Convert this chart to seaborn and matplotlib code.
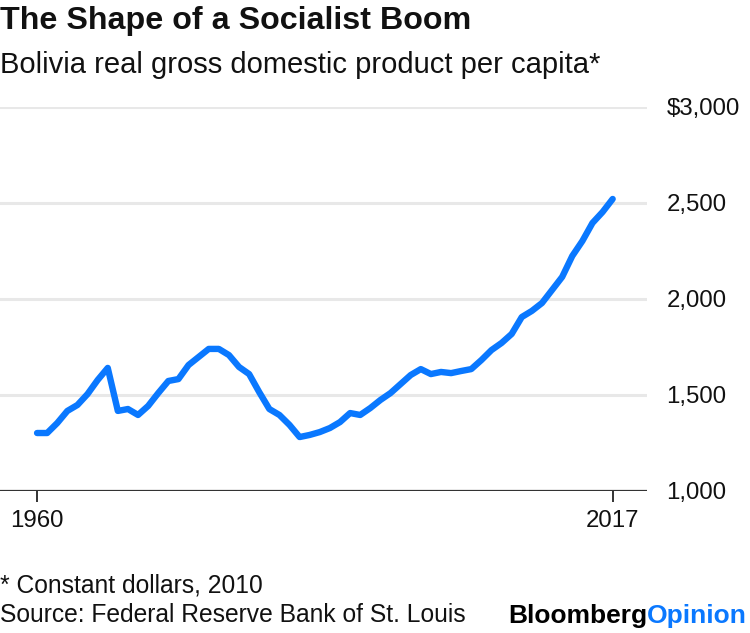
import pandas as pd
import matplotlib.pyplot as plt
import seaborn as sns

# Bolivia real GDP per capita (constant 2010 dollars)
years = list(range(1960, 2018))
gdp = [1302, 1302, 1354, 1417, 1448, 1505, 1578, 1641, 1417, 1427,
       1396, 1443, 1510, 1573, 1583, 1656, 1698, 1740, 1740, 1708,
       1646, 1609, 1515, 1427, 1396, 1344, 1281, 1292, 1307, 1328,
       1359, 1406, 1396, 1432, 1474, 1510, 1557, 1604, 1635, 1609,
       1620, 1614, 1625, 1635, 1682, 1734, 1771, 1818, 1906, 1938,
       1979, 2047, 2115, 2224, 2302, 2396, 2453, 2521]
y_ticks = [1000, 1500, 2000, 2500, 3000]
y_labels = ['1,000', '1,500', '2,000', '2,500', '$3,000']
x_ticks = [1960, 2017]

df = pd.DataFrame({'Year': years, 'GDP': gdp})

sns.set_style('white')
plt.rcParams['font.family'] = ['Liberation Sans', 'DejaVu Sans']

blue = '#0a78ff'
ink = '#111111'

fig = plt.figure(figsize=(7.5, 6.33), dpi=100)
ax = fig.add_axes([0.0, 1 - 491 / 633, 647 / 750, 384 / 633])

# light gridlines, dark baseline
for v in y_ticks[1:]:
    ax.axhline(v, color='#e8e8e8', lw=2.2, zorder=1)
ax.axhline(1000, color='#333333', lw=1.6, zorder=2)

sns.lineplot(data=df, x='Year', y='GDP', color=blue, lw=4.6, ax=ax, zorder=3)

ax.set_xlim(1956.33, 2020.4)
ax.set_ylim(1000, 3000)
ax.set_xlabel('')
ax.set_ylabel('')
ax.set_xticks(x_ticks)
ax.set_xticklabels([str(x) for x in x_ticks])
ax.set_yticks(y_ticks)
ax.set_yticklabels(y_labels)
ax.yaxis.tick_right()
for lab in ax.get_yticklabels():
    lab.set_horizontalalignment('left')
ax.tick_params(axis='y', left=False, right=False, length=0, pad=14,
               labelsize=17.3, labelcolor=ink)
ax.tick_params(axis='x', bottom=True, direction='out', length=8, width=1.4,
               color='#333333', pad=6, labelsize=17.3, labelcolor=ink)
for s in ax.spines.values():
    s.set_visible(False)

fig.text(0.0, 1 - 29 / 633, 'The Shape of a Socialist Boom', fontsize=23.2,
         fontweight='bold', va='baseline', ha='left', color=ink)
fig.text(0.0, 1 - 73 / 633, 'Bolivia real gross domestic product per capita*',
         fontsize=21, va='baseline', ha='left', color=ink)
fig.text(0.0, 1 - 592 / 633, '* Constant dollars, 2010', fontsize=17.7,
         va='baseline', ha='left', color=ink)
fig.text(0.0, 1 - 622 / 633, 'Source: Federal Reserve Bank of St. Louis',
         fontsize=17.7, va='baseline', ha='left', color=ink)
t = fig.text(508 / 750, 1 - 623 / 633, 'Bloomberg', fontsize=19,
             fontweight='bold', va='baseline', ha='left', color='#000000')
fig.canvas.draw()
bb = t.get_window_extent()
fig.text(bb.x1 / fig.bbox.width, 1 - 623 / 633, 'Opinion', fontsize=19,
         fontweight='bold', va='baseline', ha='left', color=blue)

fig.savefig('out.png', dpi=100)
